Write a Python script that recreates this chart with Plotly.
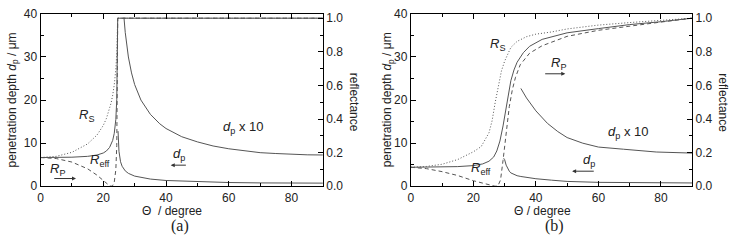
import plotly.graph_objects as go

W, H = 732, 248

# ---------------- Panel (a) data ----------------
theta_a_R = [0, 5, 10, 15, 18, 20, 21, 22, 22.5, 23, 23.5, 24, 24.3, 24.5, 24.6, 90]
Rs_a = [0.171, 0.178, 0.202, 0.252, 0.305, 0.362, 0.404, 0.459, 0.496, 0.542, 0.604, 0.697, 0.791, 0.939, 1.0, 1.0]
Rp_a = [0.171, 0.165, 0.144, 0.104, 0.066, 0.034, 0.017, 0.003, 0.0, 0.004, 0.025, 0.098, 0.243, 0.692, 1.0, 1.0]
Reff_a = [0.171, 0.171, 0.173, 0.178, 0.186, 0.198, 0.210, 0.231, 0.248, 0.273, 0.315, 0.398, 0.517, 0.816, 1.0, 1.0]
theta_a_dp = [24.7, 24.8, 25, 25.5, 26, 27, 28, 30, 35, 40, 50, 60, 70, 80, 90]
dp_a = [12.8, 10.5, 8.1, 5.7, 4.65, 3.57, 3.0, 2.36, 1.67, 1.34, 1.03, 0.87, 0.78, 0.74, 0.73]
theta_a_dp10 = [26.6, 27, 28, 29, 30, 32, 35, 38, 40, 45, 50, 55, 60, 65, 70, 75, 80, 85, 90]
dp10_a = [39.1, 35.7, 30.0, 26.3, 23.6, 20.0, 16.7, 14.5, 13.4, 11.5, 10.3, 9.35, 8.7, 8.2, 7.8, 7.6, 7.4, 7.3, 7.26]

# ---------------- Panel (b) data ----------------
theta_b_Rs = [0, 5, 10, 15, 20, 22.5, 25, 26, 27, 28, 29, 30, 31, 32, 34, 37, 40, 45, 50, 60, 70, 80, 90]
Rs_b = [0.113, 0.118, 0.131, 0.159, 0.205, 0.236, 0.318, 0.390, 0.500, 0.603, 0.687, 0.744, 0.790, 0.826, 0.862, 0.890, 0.905, 0.918, 0.936, 0.959, 0.974, 0.987, 1.0]
theta_b_Reff = [0, 10, 15, 20, 23, 25, 26.5, 27.5, 28.5, 29.5, 30.3, 31, 32, 33, 34, 36, 38, 42, 50, 60, 70, 80, 90]
Reff_b = [0.113, 0.114, 0.117, 0.123, 0.133, 0.149, 0.174, 0.210, 0.269, 0.359, 0.449, 0.538, 0.628, 0.692, 0.738, 0.795, 0.833, 0.874, 0.913, 0.938, 0.962, 0.979, 1.0]
theta_b_Rp = [0, 5, 10, 15, 20, 22.5, 25, 27, 28, 28.7, 29.5, 30.5, 31.5, 32.5, 33.5, 35, 38, 42, 50, 60, 70, 80, 90]
Rp_b = [0.113, 0.105, 0.087, 0.064, 0.033, 0.021, 0.008, 0.0, 0.008, 0.038, 0.154, 0.321, 0.474, 0.577, 0.649, 0.723, 0.792, 0.836, 0.892, 0.928, 0.954, 0.977, 1.0]
theta_b_dp = [29.7, 30, 30.5, 31, 31.5, 32, 33, 34, 35.2, 40, 45, 50, 60, 70, 80, 90]
dp_b = [6.5, 6.2, 4.9, 4.0, 3.5, 3.1, 2.7, 2.45, 2.27, 1.75, 1.42, 1.13, 0.91, 0.86, 0.79, 0.77]
theta_b_dp10 = [35.2, 37, 40, 43.7, 47, 50, 55, 60, 68, 78.5, 90]
dp10_b = [22.7, 20.5, 17.5, 14.6, 12.7, 11.3, 10.0, 9.1, 8.6, 7.95, 7.7]

LC = "#555555"
DOT = "1px,2px"
DASH = "4px,3px"
fig = go.Figure()

def add(x, y, xa, ya, dash="solid", color=LC, width=1):
    fig.add_trace(go.Scatter(x=x, y=y, xaxis=xa, yaxis=ya, mode="lines",
                             line=dict(color=color, width=width, dash=dash),
                             showlegend=False, hoverinfo="skip"))

# panel a
add(theta_a_R, Rs_a, "x", "y2", dash=DOT)
add(theta_a_R, Rp_a, "x", "y2", dash=DASH)
add(theta_a_R, Reff_a, "x", "y2")
add(theta_a_dp, dp_a, "x", "y")
add(theta_a_dp10, dp10_a, "x", "y")
# panel b
add(theta_b_Rs, Rs_b, "x2", "y4", dash=DOT)
add(theta_b_Rp, Rp_b, "x2", "y4", dash=DASH)
add(theta_b_Reff, Reff_b, "x2", "y4")
add(theta_b_dp, dp_b, "x2", "y3")
add(theta_b_dp10, dp10_b, "x2", "y3")

ydom = [1 - 190 / H, 1 - 7.3 / H]
xdomA = [37.7 / W, 321.2 / W]
xdomB = [409.5 / W, 692.0 / W]
TF = dict(family="Liberation Sans, Arial", size=12, color="#222")

def xax(dom, anchor):
    return dict(domain=dom, anchor=anchor, range=[0, 90], tick0=0, dtick=20,
                ticks="inside", ticklen=5, tickwidth=1, tickcolor="black",
                minor=dict(dtick=10, ticks="inside", ticklen=3, tickcolor="black"),
                showline=True, linecolor="black", linewidth=1, mirror="ticks",
                showgrid=False, zeroline=False, tickfont=TF)

def yleft(anchor):
    return dict(domain=ydom, anchor=anchor, range=[0, 40], tick0=0, dtick=10,
                ticks="inside", ticklen=5, tickcolor="black",
                minor=dict(dtick=5, ticks="inside", ticklen=3, tickcolor="black"),
                showline=True, linecolor="black", linewidth=1,
                showgrid=False, zeroline=False, tickfont=TF)

def yright(anchor, over):
    return dict(domain=ydom, anchor=anchor, overlaying=over, side="right",
                range=[0, 40 / 39], tick0=0, dtick=0.2, tickformat=".1f",
                ticks="inside", ticklen=5, tickcolor="black",
                minor=dict(dtick=0.1, ticks="inside", ticklen=3, tickcolor="black"),
                showline=True, linecolor="black", linewidth=1,
                showgrid=False, zeroline=False, tickfont=TF)

fig.update_layout(
    width=W, height=H, margin=dict(l=0, r=0, t=0, b=0),
    paper_bgcolor="white", plot_bgcolor="white",
    xaxis=xax(xdomA, "y"), yaxis=yleft("x"), yaxis2=yright("x", "y"),
    xaxis2=xax(xdomB, "y3"), yaxis3=yleft("x2"), yaxis4=yright("x2", "y3"),
)

AF = dict(family="Liberation Sans, Arial", size=13, color="#222")
def lab(text, x, y, xr, yr, size=13):
    fig.add_annotation(text=text, x=x, y=y, xref=xr, yref=yr, showarrow=False,
                       font=dict(AF, size=size), xanchor="center", yanchor="middle")

def arrow(x0, x1, y, xr, yr):
    fig.add_annotation(text="", x=x1, y=y, ax=x0, ay=y, xref=xr, yref=yr,
                       axref=xr, ayref=yr, showarrow=True, arrowhead=2,
                       arrowsize=0.8, arrowwidth=1, arrowcolor="#333")

# panel a labels
lab("<i>R</i><sub>S</sub>", 14.5, 16.4, "x", "y")
lab("<i>R</i><sub>eff</sub>", 18.9, 6.0, "x", "y")
lab("<i>R</i><sub>P</sub>", 5.5, 3.8, "x", "y")
arrow(3.9, 11.3, 1.8, "x", "y")
lab("<i>d</i><sub>p</sub> x 10", 64.5, 13.6, "x", "y")
lab("<i>d</i><sub>p</sub>", 44.2, 7.4, "x", "y")
arrow(46.8, 41.5, 4.9, "x", "y")
# panel b labels
lab("<i>R</i><sub>S</sub>", 27.7, 32.8, "x2", "y3")
lab("<i>R</i><sub>P</sub>", 47.3, 28.6, "x2", "y3")
arrow(42.5, 49.4, 26.1, "x2", "y3")
lab("<i>R</i><sub>eff</sub>", 22.6, 4.2, "x2", "y3")
lab("<i>d</i><sub>p</sub> x 10", 69.5, 12.4, "x2", "y3")
lab("<i>d</i><sub>p</sub>", 56.9, 6.0, "x2", "y3")
arrow(59.0, 51.6, 3.5, "x2", "y3")

# axis titles
def ptext(text, px, py, angle=0, size=12, family="Liberation Sans, Arial"):
    fig.add_annotation(text=text, x=px / W, y=1 - py / H, xref="paper", yref="paper",
                       showarrow=False, textangle=angle,
                       font=dict(family=family, size=size, color="#222"),
                       xanchor="center", yanchor="middle")

ytitle = "penetration depth <i>d</i><sub>p</sub> / μm"
ptext(ytitle, 9.5, 98.5, angle=-90)
ptext(ytitle, 387, 98.5, angle=-90)
ptext("reflectance", 352, 101, angle=90)
ptext("reflectance", 723, 101, angle=90)
ptext("Θ  / degree", 170, 216.5)
ptext("Θ / degree", 542, 216.5)
ptext("(a)", 177.5, 232.5, size=16, family="Liberation Serif, Times New Roman")
ptext("(b)", 554, 232.5, size=16, family="Liberation Serif, Times New Roman")

fig.write_html("out.html", config={"displayModeBar": False, "staticPlot": True},
               post_script="document.body.style.margin='0';document.body.style.overflow='hidden';")
